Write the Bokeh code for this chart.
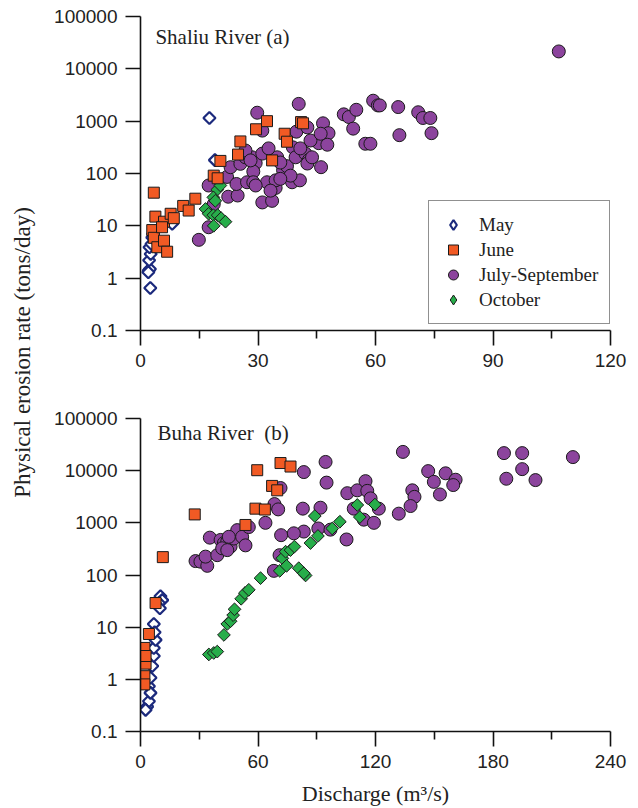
import numpy as np
from bokeh.plotting import figure
from bokeh.layouts import row, column
from bokeh.models import (FixedTicker, Range1d, Legend, LegendItem, Label)
from bokeh.embed import file_html
from bokeh.resources import INLINE

# ---------------- data ----------------
series_names = ["May", "June", "July-September", "October"]

# Shaliu River (a)
sh_may_q = [2.5, 2.1, 2.4, 2.2, 2.6, 2.3, 2.8, 3.0, 8.1, 17.6, 19.0, 2.0, 3.2]
sh_may_e = [0.65, 1.4, 1.5, 2.2, 2.9, 3.9, 4.5, 6.0, 11, 1150, 180, 1.3, 7.0]

sh_jun_q = [3.4, 3.8, 3.0, 3.4, 4.3, 6.0, 6.8, 6.0, 5.5, 7.7, 8.5, 10.9, 12.3, 14.0,
            18.7, 19.7, 20.4, 24.9, 25.5, 29.5, 32.3, 33.6, 36.8, 37.4, 41.0, 41.5]
sh_jun_e = [43, 15, 8.3, 5.9, 3.9, 5.2, 3.2, 12, 9.4, 17, 14, 24, 19.6, 33,
            91, 81, 174, 230, 410, 700, 1000, 178, 575, 405, 960, 910]

sh_jul_q = [14.9, 17.4, 17.4, 18.7, 22.4, 24.8, 22.1, 23.0, 25.5, 24.5, 27.2, 26.8, 28.5,
            29.4, 28.8, 28.8, 31.1, 33.6, 32.3, 34.5, 34.5, 29.8, 31.1, 32.3, 34.9, 36.4,
            37.4, 38.9, 39.6, 38.7, 40.7, 39.8, 40.4, 42.6, 42.1, 43.0, 42.6, 43.8, 46.1,
            46.6, 48.0, 45.5, 47.7, 51.9, 53.2, 55.1, 54.3, 57.4, 59.4, 60.6, 61.1, 65.8,
            70.9, 72.1, 74.0, 66.1, 74.3, 58.7, 106.8,
            26.8, 28.1, 31.1, 32.7, 35.7, 38.3, 29.4, 33.2, 35.7, 40.8, 43.4, 46.0]
sh_jul_e = [5.4, 9.4, 59, 26, 36, 38, 86, 132, 153, 63, 68, 204, 204,
            158, 109, 68, 28, 30, 68, 53, 74, 1450, 660, 257, 204, 115,
            138, 316, 204, 68, 74, 630, 2140, 760, 240, 182, 155, 204, 132,
            910, 590, 380, 355, 1350, 1200, 1650, 720, 370, 2460, 2000, 2000, 1860,
            1480, 1150, 1150, 540, 590, 370, 21500,
            275, 178, 240, 302, 162, 91, 59, 47, 79, 302, 427, 575]

sh_oct_q = [19.6, 20.4, 18.6, 19.1, 16.6, 17.4, 18.6, 19.7, 20.6, 21.7, 18.7]
sh_oct_e = [49, 59, 35, 30, 21, 17, 16, 16, 14, 12, 10]

# Buha River (b)
bu_may_q = [3.4, 4.3, 2.6, 4.3, 5.1, 6.0, 6.8, 6.8, 7.7, 6.8, 10.2, 11.1, 9.4, 9.9, 5.1, 7.2]
bu_may_e = [0.30, 0.38, 0.26, 0.74, 1.07, 1.8, 2.8, 4.0, 5.7, 11.5, 39, 33, 29, 23, 0.55, 8.0]

bu_jun_q = [11.4, 27.7, 59.6, 71.5, 76.6, 67.2, 69.8, 58.7, 63.5, 53.6, 7.7, 4.3, 2.0, 2.6,
            2.0, 2.0, 2.6]
bu_jun_e = [220, 1450, 10200, 14000, 12000, 5100, 4200, 1870, 1800, 910, 29, 7.4, 4.0, 2.0,
            1.15, 0.8, 2.8]

bu_jul_q = [28.1, 30.6, 34.1, 33.2, 35.4, 39.2, 40.9, 42.6, 44.3, 46.0, 47.7, 49.4, 51.9,
            53.6, 55.3, 41.7, 44.3, 45.1, 63.8, 68.4, 70.3, 71.5, 83.4, 94.5, 95.0, 82.9,
            91.9, 90.8, 83.4, 78.3, 71.8, 71.0, 68.1, 97.0, 105.2, 105.6, 110.7, 114.9,
            115.8, 117.5, 108.9, 114.0, 119.2, 134.0, 146.9, 149.8, 155.8, 160.9, 159.7,
            152.9, 138.8, 139.9, 137.9, 131.9, 121.7, 185.6, 194.9, 194.9, 186.8, 201.7,
            220.8]
bu_jul_e = [185, 180, 150, 225, 520, 240, 470, 410, 440, 350, 500, 725, 540,
            370, 830, 325, 300, 540, 1000, 2290, 1810, 4650, 9400, 14700, 5900, 1870,
            1950, 780, 680, 630, 580, 240, 120, 740, 480, 3700, 4200, 6300,
            4100, 2940, 1870, 1150, 1000, 22900, 9800, 6100, 8900, 6700, 5300,
            3500, 4200, 3150, 2100, 1500, 1870, 21700, 21700, 10700, 7000, 6600,
            18200]

bu_oct_q = [34.9, 37.4, 39.2, 42.6, 44.3, 46.0, 47.3, 48.0, 51.4, 53.3, 55.3, 61.3, 71.1,
            72.4, 74.6, 74.1, 76.6, 78.6, 80.8, 84.3, 83.4, 86.8, 90.6, 89.0, 97.9, 101.8,
            110.7, 112.0, 119.7]
bu_oct_e = [3.0, 3.2, 3.4, 7.1, 11.5, 13, 17, 22, 35, 45, 52, 87, 120,
            209, 150, 280, 300, 350, 135, 98, 108, 410, 560, 1350, 780, 1050,
            2200, 1290, 2240]

y_ticks = [0.1, 1, 10, 100, 1000, 10000, 100000]
y_tick_labels = ["0.1", "1", "10", "100", "1000", "10000", "100000"]
x_ticks_a = [0, 30, 60, 90, 120]
x_minor_a = [15, 45, 75, 105]
x_ticks_b = [0, 60, 120, 180, 240]
x_minor_b = [30, 90, 150, 210]

# ---------------- styles ----------------
SERIF = "Liberation Serif"
SANS = "Liberation Sans"
C_MAY = "#1c2a7d"
C_JUN = "#f15a24"
C_JUL = "#8c449d"
C_OCT = "#27ad4a"
EDGE = "#1a1a1a"


def make_panel(title, xmax, xt, xm, height, btop, bbottom, xlabel, title_pos):
    p = figure(width=598, height=height, output_backend="svg", toolbar_location=None,
               y_axis_type="log", x_range=Range1d(0, xmax), y_range=Range1d(0.1, 100000),
               min_border_left=100, min_border_right=28, min_border_top=btop,
               min_border_bottom=bbottom)
    p.outline_line_color = None
    p.xgrid.grid_line_color = None
    p.ygrid.grid_line_color = None
    p.background_fill_color = "white"
    p.border_fill_color = "white"

    p.xaxis.ticker = FixedTicker(ticks=xt, minor_ticks=xm)
    p.yaxis.ticker = FixedTicker(ticks=y_ticks, minor_ticks=[])
    p.yaxis.major_label_overrides = {t: l for t, l in zip(y_ticks, y_tick_labels)}
    for ax in (p.xaxis[0], p.yaxis[0]):
        ax.axis_line_color = "#111111"
        ax.axis_line_width = 1.6
        ax.major_tick_line_color = "#111111"
        ax.major_tick_line_width = 1.6
        ax.minor_tick_line_color = "#111111"
        ax.minor_tick_line_width = 1.6
        ax.major_tick_in = 0
        ax.minor_tick_in = 0
        ax.major_label_text_font = SANS
        ax.major_label_text_font_size = "19px"
        ax.major_label_text_color = "#222222"
        ax.major_label_standoff = 8
    p.xaxis.major_tick_out = 15
    p.xaxis.minor_tick_out = 8
    p.yaxis.major_tick_out = 15
    p.yaxis.minor_tick_line_color = None
    if xlabel:
        p.xaxis.axis_label = xlabel
        p.xaxis.axis_label_text_font = SERIF
        p.xaxis.axis_label_text_font_size = "22px"
        p.xaxis.axis_label_text_font_style = "normal"
        p.xaxis.axis_label_text_color = "#222222"
        p.xaxis.axis_label_standoff = 10

    p.add_layout(Label(x=title_pos[0], y=title_pos[1], text=title, text_font=SERIF,
                       text_font_size="21px", text_color="#222222",
                       text_baseline="middle", text_align="left"))
    return p


def add_series(p, may, jun, jul, octo):
    p.scatter(may[0], may[1], marker="square", angle=np.pi / 4, size=8.5,
              fill_color="white", line_color=C_MAY, line_width=2.2)
    r_jul = p.scatter(jul[0], jul[1], marker="circle", size=13,
                      fill_color=C_JUL, line_color=EDGE, line_width=1)
    p.scatter(octo[0], octo[1], marker="square", angle=np.pi / 4, size=9,
              fill_color=C_OCT, line_color=EDGE, line_width=1)
    r_jun = p.scatter(jun[0], jun[1], marker="square", size=11,
                      fill_color=C_JUN, line_color=EDGE, line_width=1)
    return r_jun, r_jul


pa = make_panel("Shaliu River (a)", 120, x_ticks_a, x_minor_a, 400, 16, 70, None, (3.8, 39800))
r_jun, r_jul = add_series(pa, (sh_may_q, sh_may_e), (sh_jun_q, sh_jun_e),
                          (sh_jul_q, sh_jul_e), (sh_oct_q, sh_oct_e))
# legend swatches for the diamond series (legend glyphs are drawn unrotated);
# a single NaN entry so that nothing appears in the plot area
leg_may = pa.scatter([np.nan], [np.nan], marker="diamond", size=12, fill_color="white",
                     line_color=C_MAY, line_width=2.2)
leg_oct = pa.scatter([np.nan], [np.nan], marker="diamond", size=12, fill_color=C_OCT,
                     line_color=EDGE, line_width=1)

legend = Legend(items=[LegendItem(label=n, renderers=[r]) for n, r in
                       zip(series_names, [leg_may, r_jun, r_jul, leg_oct])],
                location=(288, 6), orientation="vertical")
legend.border_line_color = "#222222"
legend.border_line_width = 1
legend.background_fill_color = "white"
legend.background_fill_alpha = 1
legend.label_text_font = SERIF
legend.label_text_font_size = "19px"
legend.label_text_color = "#222222"
legend.glyph_width = 26
legend.glyph_height = 25
legend.label_height = 25
legend.label_standoff = 13
legend.padding = 11
legend.spacing = 0
legend.margin = 0
pa.add_layout(legend)

pb = make_panel("Buha River\u00a0 (b)", 240, x_ticks_b, x_minor_b, 408, 18, 76,
                "Discharge (m\u00b3/s)", (8.7, 51700))
add_series(pb, (bu_may_q, bu_may_e), (bu_jun_q, bu_jun_e),
           (bu_jul_q, bu_jul_e), (bu_oct_q, bu_oct_e))

# left strip carrying the shared y-axis title
py = figure(width=40, height=808, output_backend="svg", toolbar_location=None,
            x_range=Range1d(0, 40), y_range=Range1d(0, 808),
            x_axis_type=None, y_axis_type=None, min_border=0)
py.outline_line_color = None
py.xgrid.grid_line_color = None
py.ygrid.grid_line_color = None
py.add_layout(Label(x=22, y=456, text="Physical erosion rate (tons/day)", angle=np.pi / 2,
                    text_font=SERIF, text_font_size="23px", text_color="#222222",
                    text_align="center", text_baseline="middle"))

layout = row(py, column(pa, pb, spacing=0), spacing=0)

open("out.html", "w").write(file_html(layout, INLINE))
